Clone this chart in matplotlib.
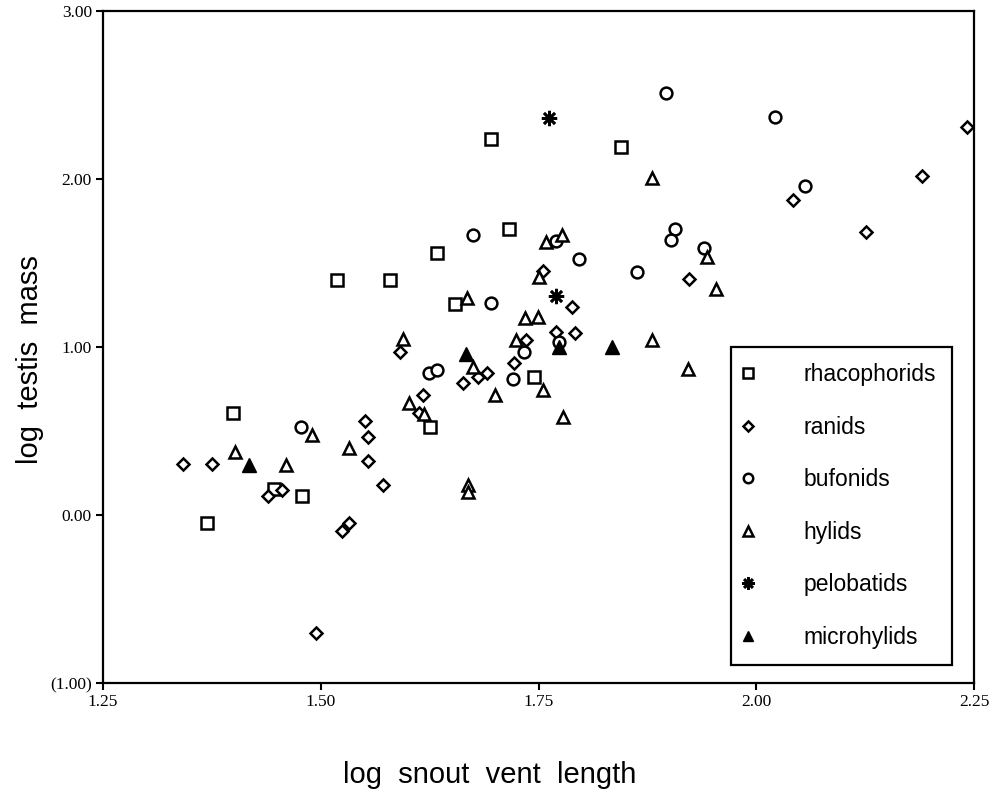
import matplotlib
matplotlib.use("Agg")
import matplotlib.pyplot as plt

# log snout vent length (x), log testis mass (y) per family
rhaco_x = [1.399, 1.446, 1.478, 1.369, 1.625, 1.745, 1.654, 1.633, 1.580, 1.519, 1.716, 1.695, 1.845]
rhaco_y = [0.605, 0.153, 0.115, -0.046, 0.525, 0.820, 1.256, 1.561, 1.399, 1.399, 1.702, 2.236, 2.189]

ranid_x = [1.342, 1.375, 1.440, 1.455, 1.524, 1.532, 1.495, 1.551, 1.554, 1.554, 1.572, 1.617, 1.613, 1.591,
           1.663, 1.680, 1.691, 1.722, 1.736, 1.770, 1.792, 1.789, 1.755, 1.923, 2.042, 2.190, 2.126, 2.242]
ranid_y = [0.304, 0.304, 0.113, 0.149, -0.093, -0.046, -0.700, 0.560, 0.466, 0.323, 0.179, 0.714, 0.609, 0.972,
           0.784, 0.820, 0.843, 0.907, 1.042, 1.091, 1.085, 1.240, 1.454, 1.403, 1.875, 2.018, 1.686, 2.308]

bufo_x = [1.477, 1.624, 1.634, 1.721, 1.733, 1.773, 1.695, 1.675, 1.770, 1.796, 1.863, 1.896, 2.021,
          2.056, 1.907, 1.902, 1.940]
bufo_y = [0.522, 0.847, 0.863, 0.811, 0.972, 1.032, 1.260, 1.668, 1.633, 1.522, 1.448, 2.510, 2.371,
          1.958, 1.700, 1.637, 1.587]

hylid_x = [1.402, 1.460, 1.490, 1.532, 1.601, 1.618, 1.594, 1.675, 1.700, 1.724, 1.755, 1.778, 1.734,
           1.749, 1.668, 1.750, 1.759, 1.777, 1.880, 1.943, 1.954, 1.880, 1.922, 1.669, 1.669]
hylid_y = [0.377, 0.298, 0.476, 0.397, 0.665, 0.601, 1.046, 0.883, 0.714, 1.042, 0.744, 0.581, 1.171,
           1.177, 1.290, 1.415, 1.627, 1.667, 2.004, 1.534, 1.345, 1.042, 0.867, 0.179, 0.139]

pelo_x = [1.762, 1.770]
pelo_y = [2.361, 1.304]

micro_x = [1.418, 1.667, 1.773, 1.834]
micro_y = [0.298, 0.957, 0.998, 1.002]

x_ticks = [1.25, 1.50, 1.75, 2.00, 2.25]
x_ticklabels = ["1.25", "1.50", "1.75", "2.00", "2.25"]
y_ticks = [-1, 0, 1, 2, 3]
y_ticklabels = ["(1.00)", "0.00", "1.00", "2.00", "3.00"]

fig = plt.figure(figsize=(10.06, 7.97), dpi=100)
ax = fig.add_axes([103 / 1006, 1 - 683 / 797, 871 / 1006, 672 / 797])

open_kw = dict(linestyle="none", markerfacecolor="white", markeredgecolor="black", markeredgewidth=1.8)
ax.plot(rhaco_x, rhaco_y, marker="s", markersize=9, label="rhacophorids", **open_kw)
ax.plot(ranid_x, ranid_y, marker="D", markersize=6.3, label="ranids", **open_kw)
ax.plot(bufo_x, bufo_y, marker="o", markersize=8.5, label="bufonids", **open_kw)
ax.plot(hylid_x, hylid_y, marker="^", markersize=8.5, label="hylids", **open_kw)
ax.plot(pelo_x, pelo_y, marker=(8, 2, 0), markersize=11, linestyle="none",
        color="black", markeredgewidth=1.9, label="pelobatids")
ax.plot(micro_x, micro_y, marker="^", markersize=9.5, linestyle="none",
        color="black", label="microhylids")

ax.set_xlim(1.25, 2.25)
ax.set_ylim(-1, 3)
ax.set_xticks(x_ticks)
ax.set_xticklabels(x_ticklabels, family="Liberation Serif", fontsize=12.5)
ax.set_yticks(y_ticks)
ax.set_yticklabels(y_ticklabels, family="Liberation Serif", fontsize=12.5)
ax.tick_params(direction="out", length=5, width=1.5, pad=3)
for s in ax.spines.values():
    s.set_linewidth(1.6)

fig.text(490 / 1006, 1 - 775 / 797, "log  snout  vent  length", family="Liberation Sans",
         fontsize=21, ha="center", va="center")
fig.text(30 / 1006, 1 - 360 / 797, "log  testis  mass", family="Liberation Sans",
         fontsize=21, ha="center", va="center", rotation=90)

leg = ax.legend(loc="upper left", bbox_to_anchor=(0.721, 0.5), borderaxespad=0,
                prop={"family": "Liberation Sans", "size": 16.5}, fancybox=False,
                edgecolor="black", framealpha=1, borderpad=0.7, handlelength=0.1,
                handletextpad=2.35, labelspacing=1.29, markerscale=0.8)
leg.get_frame().set_linewidth(1.6)

fig.savefig("out.png", dpi=100)
